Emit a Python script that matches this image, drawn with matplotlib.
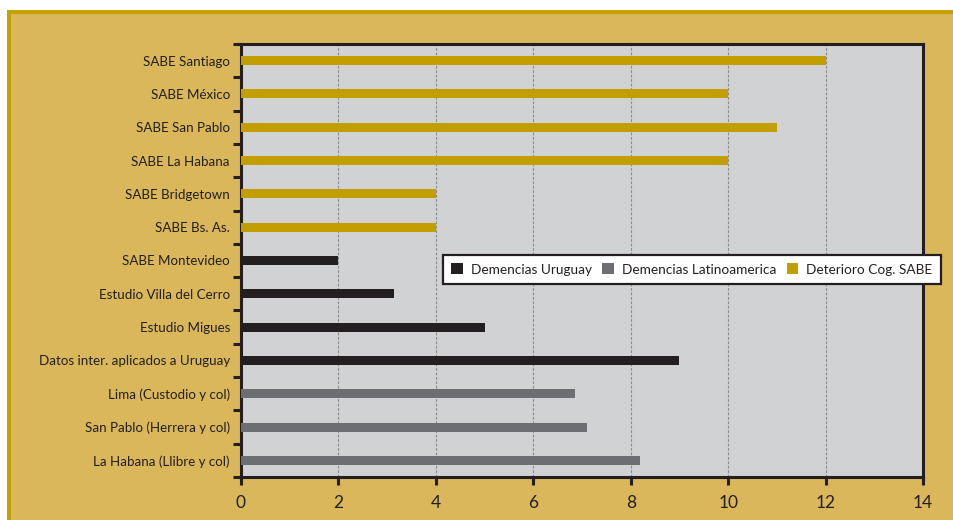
import matplotlib
matplotlib.use("Agg")
import matplotlib.pyplot as plt
from matplotlib.patches import Rectangle, Patch

plt.rcParams['font.family'] = ['Lato', 'DejaVu Sans']

# ---- data ----
sabe_labels = ["SABE Santiago", "SABE México", "SABE San Pablo", "SABE La Habana",
               "SABE Bridgetown", "SABE Bs. As."]
sabe_values = [12, 10, 11, 10, 4, 4]
uru_labels = ["SABE Montevideo", "Estudio Villa del Cerro", "Estudio Migues",
              "Datos inter. aplicados a Uruguay"]
uru_values = [2, 3.15, 5, 9]
lat_labels = ["Lima (Custodio y col)", "San Pablo (Herrera y col)", "La Habana (Llibre y col)"]
lat_values = [6.85, 7.1, 8.2]
series_names = ["Demencias Uruguay", "Demencias Latinoamerica", "Deterioro Cog. SABE"]
x_ticks = [0, 2, 4, 6, 8, 10, 12, 14]

# ---- style ----
C_URU = "#231F20"
C_LAT = "#6D6E71"
C_SABE = "#C29E00"
C_FILL = "#D9B75A"
C_EDGE = "#C4A000"
C_PLOT = "#D1D2D4"
TXT = "#231F20"

W, H = 954, 520
fig = plt.figure(figsize=(W / 100, H / 100), dpi=100)
fig.patch.set_facecolor("white")

# golden frame
ew = 4
fig.patches.append(Rectangle((9 / W, -0.1), 1.2, 1 - 12 / H + 0.1,
                             transform=fig.transFigure, facecolor=C_FILL,
                             edgecolor=C_EDGE, linewidth=ew * 0.72, zorder=-10))

ax = fig.add_axes([241 / W, 1 - 477 / H, (923 - 241) / W, (477 - 44) / H])
ax.set_zorder(1)
ax.set_facecolor(C_PLOT)

labels = sabe_labels + uru_labels + lat_labels
n_s, n_u, n_l = len(sabe_labels), len(uru_labels), len(lat_labels)
ypos = list(range(len(labels)))
bh = 0.27
ax.barh(ypos[:n_s], sabe_values, height=bh, color=C_SABE, zorder=3)
ax.barh(ypos[n_s:n_s + n_u], uru_values, height=bh, color=C_URU, zorder=3)
ax.barh(ypos[n_s + n_u:], lat_values, height=bh, color=C_LAT, zorder=3)

ax.set_ylim(len(labels) - 0.5, -0.5)
ax.set_yticks([y for y in ypos])
ax.set_yticklabels(labels, fontsize=9.6, color=TXT)
ax.set_yticks([y - 0.5 for y in ypos] + [len(labels) - 0.5], minor=True)
ax.tick_params(axis='y', which='major', length=0, pad=8)
ax.tick_params(axis='y', which='minor', length=6, width=2.2, color=TXT, direction='out')

ax.set_xlim(x_ticks[0], x_ticks[-1])
ax.set_xticks(x_ticks)
ax.set_xticklabels([str(t) for t in x_ticks], fontsize=12.5, color=TXT)
ax.tick_params(axis='x', length=6, width=2.2, color=TXT, pad=7)

ax.grid(axis='x', color="#8C8C8C", linestyle=(0, (2.5, 1.5)), linewidth=0.8, zorder=1)
ax.set_axisbelow(True)
for s in ax.spines.values():
    s.set_linewidth(2.2)
    s.set_color(TXT)

handles = [Patch(facecolor=C_URU), Patch(facecolor=C_LAT), Patch(facecolor=C_SABE)]
leg = fig.legend(handles, series_names, loc='center', ncol=3,
                 bbox_to_anchor=(692 / W, 1 - 269.5 / H), bbox_transform=fig.transFigure,
                 fontsize=9.8, frameon=True, fancybox=False, edgecolor="#231F20",
                 framealpha=1, handlelength=0.85, handleheight=0.85, handletextpad=0.6,
                 columnspacing=0.75, borderpad=0.62, borderaxespad=0)
leg.set_zorder(5)
leg.get_frame().set_linewidth(1.6)
for t in leg.get_texts():
    t.set_color(TXT)

fig.savefig("out.png", dpi=100)
